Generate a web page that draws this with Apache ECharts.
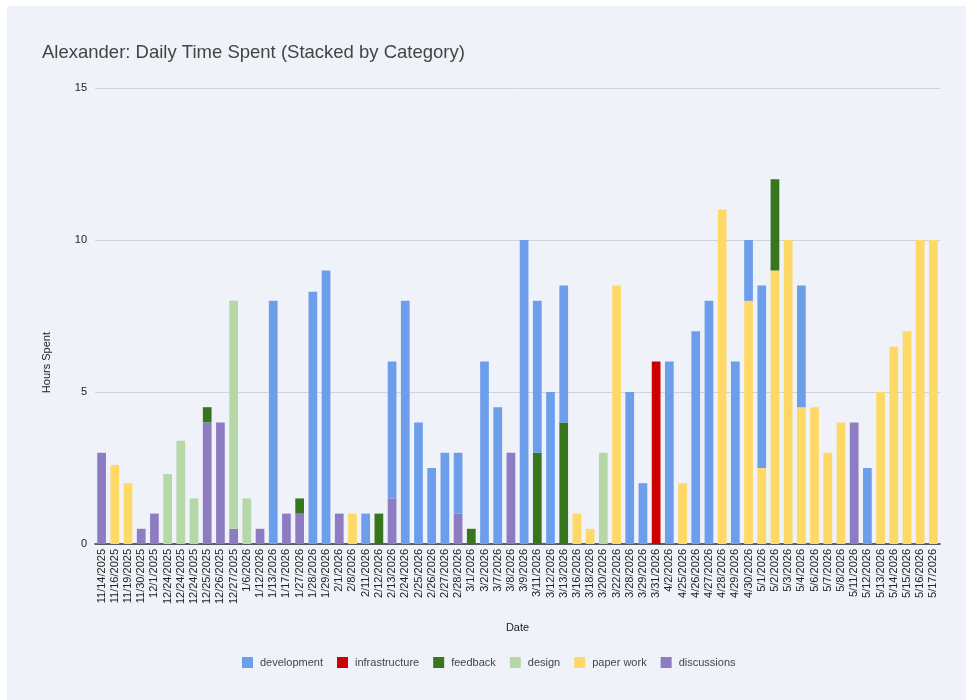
<!DOCTYPE html>
<html>
<head>
<meta charset="utf-8">
<script src="https://cdn.jsdelivr.net/npm/echarts@6/dist/echarts.min.js"></script>
<style>
  html, body { margin: 0; padding: 0; background: #ffffff; width: 966px; height: 700px; overflow: hidden; }
  #chart { position: absolute; left: 7px; top: 6px; width: 959px; height: 694px; background: #eff2f8; }
</style>
</head>
<body>
<div id="chart"></div>
<script>
// Dates (one bar per logged entry)
const categories = [
  '11/14/2025','11/16/2025','11/19/2025','11/30/2025','12/1/2025','12/24/2025','12/24/2025','12/24/2025',
  '12/25/2025','12/26/2025','12/27/2025','1/6/2026','1/12/2026','1/13/2026','1/17/2026','1/27/2026',
  '1/28/2026','1/29/2026','2/1/2026','2/8/2026','2/11/2026','2/12/2026','2/13/2026','2/24/2026',
  '2/25/2026','2/26/2026','2/27/2026','2/28/2026','3/1/2026','3/2/2026','3/7/2026','3/8/2026',
  '3/9/2026','3/11/2026','3/12/2026','3/13/2026','3/16/2026','3/18/2026','3/20/2026','3/22/2026',
  '3/28/2026','3/29/2026','3/31/2026','4/2/2026','4/25/2026','4/26/2026','4/27/2026','4/28/2026',
  '4/29/2026','4/30/2026','5/1/2026','5/2/2026','5/3/2026','5/4/2026','5/6/2026','5/7/2026',
  '5/8/2026','5/11/2026','5/12/2026','5/13/2026','5/14/2026','5/15/2026','5/16/2026','5/17/2026'
];

// Hours per category
const development = [
  0,0,0,0,0,0,0,0,
  0,0,0,0,0,8,0,0,
  8.3,9,0,0,1,0,4.5,8,
  4,2.5,3,2,0,6,4.5,0,
  10,5,5,4.5,0,0,0,0,
  5,2,0,6,0,7,8,0,
  6,2,6,0,0,4,0,0,
  0,0,2.5,0,0,0,0,0
];
const infrastructure = [
  0,0,0,0,0,0,0,0,
  0,0,0,0,0,0,0,0,
  0,0,0,0,0,0,0,0,
  0,0,0,0,0,0,0,0,
  0,0,0,0,0,0,0,0,
  0,0,6,0,0,0,0,0,
  0,0,0,0,0,0,0,0,
  0,0,0,0,0,0,0,0
];
const feedback = [
  0,0,0,0,0,0,0,0,
  0.5,0,0,0,0,0,0,0.5,
  0,0,0,0,0,1,0,0,
  0,0,0,0,0.5,0,0,0,
  0,3,0,4,0,0,0,0,
  0,0,0,0,0,0,0,0,
  0,0,0,3,0,0,0,0,
  0,0,0,0,0,0,0,0
];
const design = [
  0,0,0,0,0,2.3,3.4,1.5,
  0,0,7.5,1.5,0,0,0,0,
  0,0,0,0,0,0,0,0,
  0,0,0,0,0,0,0,0,
  0,0,0,0,0,0,3,0,
  0,0,0,0,0,0,0,0,
  0,0,0,0,0,0,0,0,
  0,0,0,0,0,0,0,0
];
const paperWork = [
  0,2.6,2,0,0,0,0,0,
  0,0,0,0,0,0,0,0,
  0,0,0,1,0,0,0,0,
  0,0,0,0,0,0,0,0,
  0,0,0,0,1,0.5,0,8.5,
  0,0,0,0,2,0,0,11,
  0,8,2.5,9,10,4.5,4.5,3,
  4,0,0,5,6.5,7,10,10
];
const discussions = [
  3,0,0,0.5,1,0,0,0,
  4,4,0.5,0,0.5,0,1,1,
  0,0,1,0,0,0,1.5,0,
  0,0,0,1,0,0,0,3,
  0,0,0,0,0,0,0,0,
  0,0,0,0,0,0,0,0,
  0,0,0,0,0,0,0,0,
  0,4,0,0,0,0,0,0
];
const yTicks = { min: 0, max: 15, step: 5 };

const legendOrder = ['development','infrastructure','feedback','design','paper work','discussions'];
const colors = {
  'development': '#6d9eeb',
  'infrastructure': '#cc0000',
  'feedback': '#38761d',
  'design': '#b6d7a8',
  'paper work': '#ffd966',
  'discussions': '#8e7cc3'
};
// Stacked from the bottom up
const stackOrder = [
  ['discussions', discussions],
  ['paper work', paperWork],
  ['design', design],
  ['feedback', feedback],
  ['infrastructure', infrastructure],
  ['development', development]
];

const chart = echarts.init(document.getElementById('chart'), null, { renderer: 'canvas' });
const font = 'Arial, "Liberation Sans", sans-serif';

chart.setOption({
  animation: false,
  backgroundColor: '#eff2f8',
  textStyle: { fontFamily: font },
  title: {
    text: 'Alexander: Daily Time Spent (Stacked by Category)',
    left: 30, top: 32,
    textStyle: { fontFamily: font, fontSize: 18.5, fontWeight: 'normal', color: '#444444' }
  },
  legend: {
    data: legendOrder,
    bottom: 27,
    left: 230,
    itemWidth: 11, itemHeight: 11, itemGap: 14,
    icon: 'rect',
    textStyle: { fontFamily: font, fontSize: 11, color: '#444444', padding: [0, 0, 0, 2] }
  },
  grid: { left: 88, right: 26, top: 82, bottom: 156, containLabel: false },
  graphic: [{
    type: 'text',
    left: 34, top: 326,
    rotation: Math.PI / 2,
    style: { text: 'Hours Spent', fontFamily: font, fontSize: 11, fill: '#222222' }
  }],
  xAxis: {
    type: 'category',
    data: categories,
    name: 'Date',
    nameLocation: 'middle',
    nameGap: 78,
    nameTextStyle: { fontFamily: font, fontSize: 11, color: '#222222' },
    axisLine: { lineStyle: { color: '#333333', width: 1.5 } },
    axisTick: { show: false },
    axisLabel: { interval: 0, rotate: 90, fontFamily: font, fontSize: 11, color: '#222222', margin: 5 }
  },
  yAxis: {
    type: 'value',
    min: yTicks.min, max: yTicks.max, interval: yTicks.step,
    axisLine: { show: false },
    axisTick: { show: false },
    axisLabel: { fontFamily: font, fontSize: 11, color: '#222222', margin: 8 },
    splitLine: { lineStyle: { color: '#cfd3da', width: 1 } }
  },
  series: stackOrder.map(([name, values]) => ({
    name: name,
    type: 'bar',
    stack: 'total',
    data: values,
    barCategoryGap: '34%',
    itemStyle: { color: colors[name] }
  }))
});
</script>
</body>
</html>
